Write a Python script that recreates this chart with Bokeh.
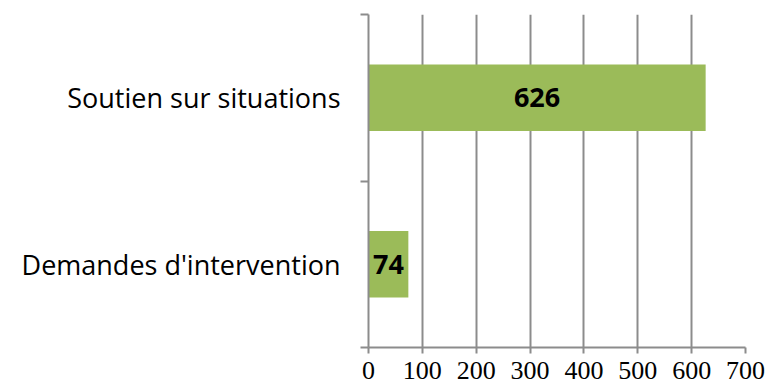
from bokeh.plotting import figure
from bokeh.models import ColumnDataSource, Range1d, FixedTicker, LabelSet
from bokeh.core.properties import value
from bokeh.embed import file_html
from bokeh.resources import INLINE

# Data
categories = ["Demandes d'intervention", "Soutien sur situations"]
values = [74, 626]
x_ticks = [0, 100, 200, 300, 400, 500, 600, 700]

BAR_COLOR = "#9BBB59"
GRID_COLOR = "#8c8c8c"

# Each category occupies one unit band; bars sit in the middle of their band
ypos = [i + 0.5 for i in range(len(categories))]
source = ColumnDataSource(dict(
    y=ypos,
    value=values,
    mid=[v / 2 for v in values],
    label=[str(v) for v in values],
))

p = figure(
    width=767, height=386,
    x_range=Range1d(0, 700), y_range=Range1d(0, len(categories)),
    output_backend="svg", toolbar_location=None,
    min_border_left=368, min_border_right=22,
    min_border_top=14, min_border_bottom=39,
)
p.outline_line_color = None
p.background_fill_color = "white"

p.hbar(y="y", right="value", left=0, height=0.4, source=source,
       fill_color=BAR_COLOR, line_color=None)

p.add_layout(LabelSet(x="mid", y="y", text="label", source=source,
                      text_align="center", text_baseline="middle",
                      text_font=value("Open Sans"), text_font_size="27px",
                      text_font_style="bold", text_color="black"))

# x axis: serif tick labels, vertical gridlines
p.xaxis.ticker = FixedTicker(ticks=x_ticks, minor_ticks=[])
p.xaxis.axis_line_color = GRID_COLOR
p.xaxis.axis_line_width = 2
p.xaxis.major_tick_line_color = GRID_COLOR
p.xaxis.major_tick_line_width = 2
p.xaxis.major_tick_in = 0
p.xaxis.major_tick_out = 6
p.xaxis.major_label_text_font = "Liberation Serif"
p.xaxis.major_label_text_font_size = "26px"
p.xaxis.major_label_text_color = "black"
p.xaxis.major_label_standoff = 8
p.xgrid.ticker = FixedTicker(ticks=x_ticks)
p.xgrid.grid_line_color = GRID_COLOR
p.xgrid.grid_line_width = 2

# y axis: labels at band centres, tick marks at band boundaries
p.yaxis.ticker = FixedTicker(ticks=ypos,
                             minor_ticks=list(range(len(categories) + 1)))
p.yaxis.major_label_overrides = {y: c for y, c in zip(ypos, categories)}
p.yaxis.axis_line_color = GRID_COLOR
p.yaxis.axis_line_width = 2
p.yaxis.major_tick_in = 0
p.yaxis.major_tick_out = 0
p.yaxis.minor_tick_in = 0
p.yaxis.minor_tick_out = 8
p.yaxis.minor_tick_line_color = GRID_COLOR
p.yaxis.minor_tick_line_width = 2
p.yaxis.major_label_text_font = "Open Sans"
p.yaxis.major_label_text_font_size = "27px"
p.yaxis.major_label_text_color = "black"
p.yaxis.major_label_standoff = 20
p.ygrid.grid_line_color = None

open("out.html", "w").write(file_html(p, INLINE))
